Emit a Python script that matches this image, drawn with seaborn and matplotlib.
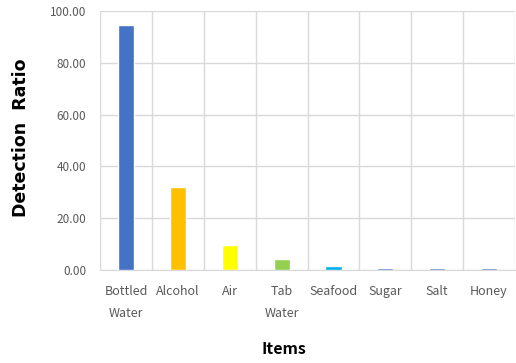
import matplotlib
matplotlib.use("Agg")
import matplotlib.pyplot as plt
import seaborn as sns
import pandas as pd
import numpy as np
from matplotlib.ticker import FixedLocator

items = ["Bottled\nWater", "Alcohol", "Air", "Tab\nWater", "Seafood", "Sugar", "Salt", "Honey"]
values = [94.6, 32.0, 9.7, 4.3, 1.4, 0.8, 0.8, 0.8]
colors = ["#4472C4", "#FFC000", "#FFFF00", "#92D050", "#00B0F0", "#4472C4", "#4472C4", "#4472C4"]
yticks = [0, 20, 40, 60, 80, 100]

sns.set_style("white")
plt.rcParams['font.family'] = ['Noto Sans CJK KR', 'DejaVu Sans']

df = pd.DataFrame({"Items": items, "Ratio": values})

fig = plt.figure(figsize=(5.16, 3.63), dpi=100)
ax = fig.add_axes([0.194, 0.256, 0.804, 0.714])
sns.barplot(data=df, x="Items", y="Ratio", hue="Items", palette=colors,
            width=0.31, legend=False, ax=ax, saturation=1)
for p in ax.patches:
    p.set_zorder(3)

ax.set_ylim(0, 100)
ax.set_xlim(-0.5, len(items) - 0.5)
ax.set_yticks(yticks)
ax.set_yticklabels([f"{v:.2f}" for v in yticks], color="#595959", fontsize=8.5)
ax.xaxis.set_minor_locator(FixedLocator(np.arange(-0.5, len(items), 1.0)))
ax.grid(True, axis="y", color="#d9d9d9", linewidth=1)
ax.grid(True, axis="x", which="minor", color="#d9d9d9", linewidth=1)
ax.set_axisbelow(True)
for s in ["top", "right", "left"]:
    ax.spines[s].set_visible(False)
ax.spines["bottom"].set_color("#d9d9d9")
ax.spines["bottom"].set_zorder(1)
ax.tick_params(axis="both", which="both", length=0)
ax.tick_params(axis="y", pad=10)
ax.tick_params(axis="x", pad=11)
for lab in ax.get_xticklabels():
    lab.set_color("#595959")
    lab.set_fontsize(9)
    lab.set_linespacing(1.9)
    lab.set_verticalalignment("top")

ax.set_xlabel("")
ax.set_ylabel("")
fig.text(284 / 516, 1 - 349 / 363, "Items", fontsize=11.5, fontweight="bold",
         color="black", ha="center", va="center")
fig.text(21 / 516, 1 - 138 / 363, "Detection  Ratio", fontsize=12.5, fontweight="bold",
         color="black", ha="center", va="center", rotation=90, family="DejaVu Sans")

fig.savefig("out.png", dpi=100)
